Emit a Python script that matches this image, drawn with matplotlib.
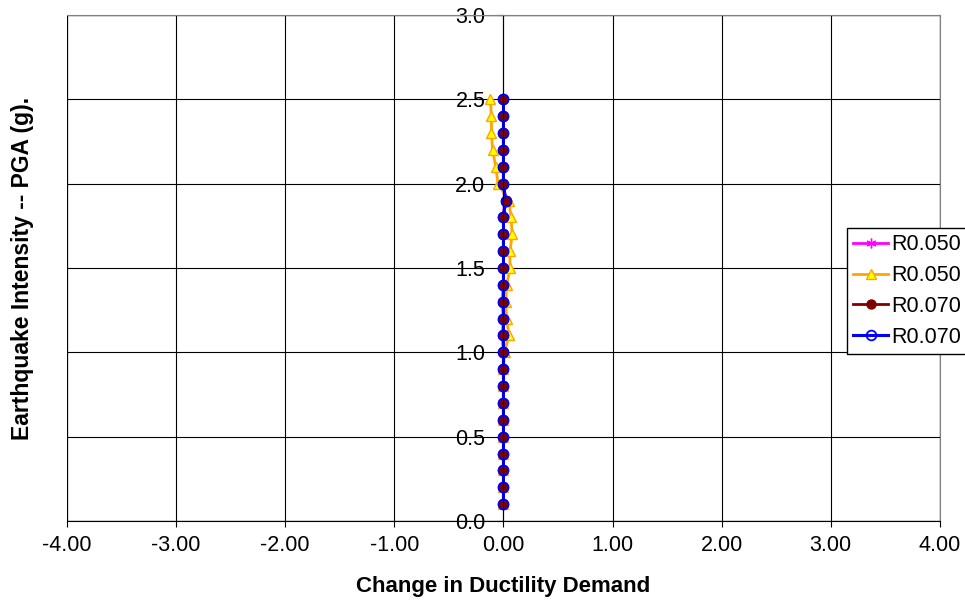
import numpy as np
import matplotlib.pyplot as plt

plt.rcParams['font.family'] = ['Liberation Sans', 'DejaVu Sans']

pga = [0.1, 0.2, 0.3, 0.4, 0.5, 0.6, 0.7, 0.8, 0.9, 1.0, 1.1, 1.2, 1.3,
       1.4, 1.5, 1.6, 1.7, 1.8, 1.9, 2.0, 2.1, 2.2, 2.3, 2.4, 2.5]

r050_a = [0, 0, 0, 0, 0, 0, 0, 0, 0, 0, -0.01, 0, -0.01,
          0, 0, 0, 0, 0, 0.01, 0, 0, 0, 0, 0, 0]
r050_b = [0, 0, 0, 0, 0, 0, 0, 0, 0, 0.01, 0.05, 0.03, 0.02,
          0.03, 0.06, 0.06, 0.08, 0.07, 0.05, -0.05, -0.07, -0.10, -0.11, -0.11, -0.12]
r070_a = [0, 0, 0, 0, 0, 0, 0, 0, 0, 0, 0, 0, 0,
          0, 0, 0, 0, 0, 0.02, 0, 0, 0, 0, 0, 0]
r070_b = [0, 0, 0, 0, 0, 0, 0, 0, 0, 0, 0, 0, 0,
          0, 0, 0, 0, 0, 0.02, 0, 0, 0, 0, 0, 0]

labels = ['R0.050', 'R0.050', 'R0.070', 'R0.070']
xticks = np.arange(-4, 5, 1)
yticks = np.arange(0, 3.01, 0.5)

fs = 15.5

fig = plt.figure(figsize=(9.65, 6.04), dpi=100)
ax = fig.add_axes([0.0694, 0.1374, 0.9046, 0.8378])

ax.plot(r050_a, pga, color='#ff00ff', lw=2, marker=(6, 2, 0), ms=7, mew=1,
        label=labels[0], zorder=2)
ax.plot(r050_b, pga, color='#ffa500', lw=2, marker='^', ms=6.5, mfc='#ffff00',
        mec='#ffa500', label=labels[1], zorder=2.1)
ax.plot(r070_a, pga, color='#800000', lw=2, marker='o', ms=6.5, mfc='#800000',
        mec='#800000', label=labels[2], zorder=2.2)
# blue line above the dark red line, dark red dots + blue rings on top
ax.plot(r070_b, pga, color='#0000ff', lw=2.2, marker='o', ms=7, mfc='none',
        mec='#0000ff', mew=1.3, label=labels[3], zorder=2.3)
ax.plot(r070_a, pga, ls='none', marker='o', ms=6.5, mfc='#800000',
        mec='#800000', zorder=2.4)
ax.plot(r070_b, pga, ls='none', marker='o', ms=7, mfc='none',
        mec='#0000ff', mew=1.3, zorder=2.5)

ax.set_xlim(-4, 4)
ax.set_ylim(0, 3)
ax.set_xticks(xticks)
ax.set_xticklabels([f'{v:.2f}' for v in xticks])
ax.set_yticks(yticks)
ax.set_yticklabels([f'{v:.1f}' for v in yticks])
ax.grid(True, color='black', lw=0.8)
ax.set_axisbelow(True)

ax.spines['left'].set_position(('data', 0))
ax.spines['left'].set_color('black')
ax.spines['bottom'].set_color('black')
ax.spines['top'].set_color('#808080')
ax.spines['right'].set_color('#808080')
ax.add_patch(plt.Rectangle((-4, 0), 8, 3, fill=False, ec='#808080', lw=1,
                           zorder=0.5))
ax.tick_params(axis='both', labelsize=fs, direction='out', length=4)
ax.tick_params(axis='x', pad=6)
ax.tick_params(axis='y', pad=9)

ax.set_xlabel('Change in Ductility Demand', fontsize=16, fontweight='bold',
              labelpad=14.5)
ax.set_ylabel('Earthquake Intensity -- PGA (g).', fontsize=16.5,
              fontweight='bold')
ax.yaxis.set_label_coords(-0.038, 0.5)

leg = ax.legend(loc='upper left', bbox_to_anchor=(0.8777, 0.6225),
                bbox_transform=fig.transFigure,
                fontsize=fs, frameon=True, fancybox=False, framealpha=1,
                edgecolor='black', handlelength=1.6, handletextpad=0.15,
                borderpad=0.3, labelspacing=0.45, borderaxespad=0)
leg.get_frame().set_linewidth(1)

fig.savefig('out.png', dpi=100)
